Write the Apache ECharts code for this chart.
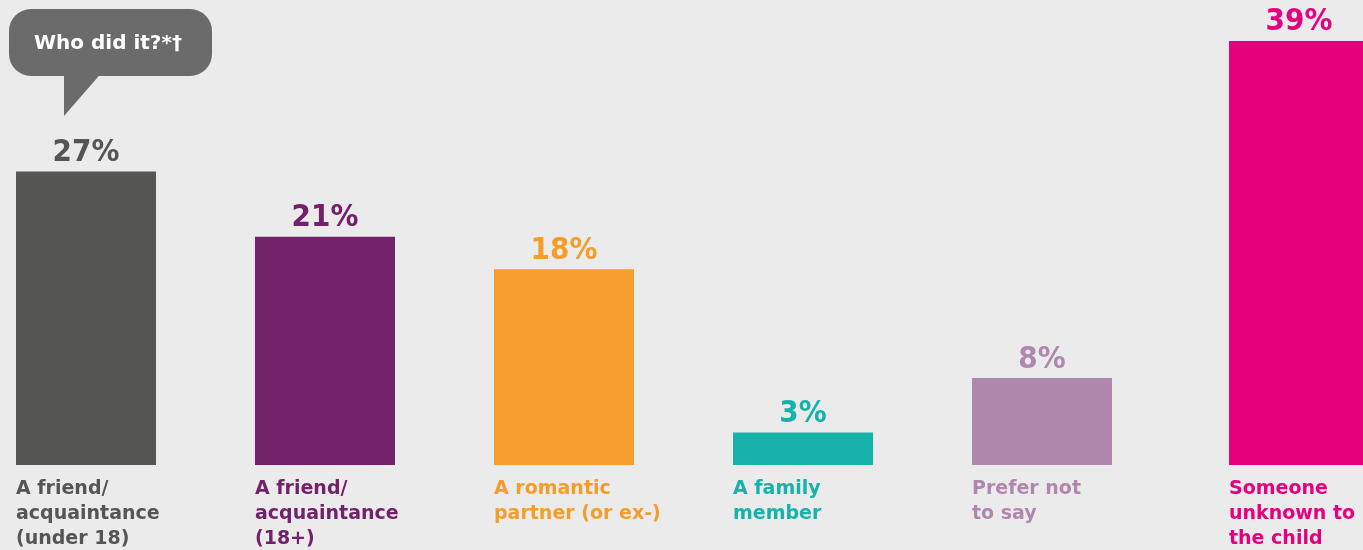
<!DOCTYPE html>
<html><head><meta charset="utf-8">
<style>html,body{margin:0;padding:0;background:#ebebeb;}#c{width:1363px;height:550px;}</style>
<script src="https://cdn.jsdelivr.net/npm/echarts@6/dist/echarts.min.js"></script>
</head><body><div id="c"></div>
<script>
const categories = ['A friend/\nacquaintance\n(under 18)', 'A friend/\nacquaintance\n(18+)', 'A romantic\npartner (or ex-)', 'A family\nmember', 'Prefer not\nto say', 'Someone\nunknown to\nthe child'];
const values = [27, 21, 18, 3, 8, 39];
const colors = ['#555554', '#71226b', '#f49d2a', '#17b2aa', '#b088ae', '#e6007e'];
const title = 'Who did it?*\u2020';

const chart = echarts.init(document.getElementById('c'));
const rich = {};
colors.forEach((c, i) => { rich['c' + i] = { color: c, width: 140, align: 'left', fontFamily: 'DejaVu Sans', fontWeight: 700, fontSize: 19, lineHeight: 25 }; });

function makeAxis(gridIndex, cats, offset) {
  return {
    type: 'category', gridIndex, data: cats,
    axisLine: { show: false }, axisTick: { show: false },
    axisLabel: {
      interval: 0, margin: 12, hideOverlap: false,
      formatter: (v, i) => v.split('\n').map(l => '{c' + (i + offset) + '|' + l + '}').join('\n'),
      rich
    }
  };
}
function makeSeries(idx, vals, offset) {
  return {
    type: 'bar', xAxisIndex: idx, yAxisIndex: idx, barWidth: 140,
    data: vals.map((v, i) => ({ value: v, itemStyle: { color: colors[i + offset] } })),
    label: { show: true, position: 'top', distance: 3, color: 'inherit', formatter: '{c}%', fontFamily: 'DejaVu Sans Condensed', fontWeight: 700, fontSize: 31 }
  };
}
const n = 5;
const yAx = g => ({ type: 'value', gridIndex: g, min: 0, max: 40, show: false, splitLine: { show: false } });
chart.setOption({
  backgroundColor: '#ebebeb',
  animation: false,
  grid: [
    { left: -33.5, width: 239 * n, top: 30, height: 435, containLabel: false, outerBoundsMode: 'none' },
    { left: 1179.5, width: 239, top: 30, height: 435, containLabel: false, outerBoundsMode: 'none' }
  ],
  xAxis: [makeAxis(0, categories.slice(0, n), 0), makeAxis(1, categories.slice(n), n)],
  yAxis: [yAx(0), yAx(1)],
  series: [makeSeries(0, values.slice(0, n), 0), makeSeries(1, values.slice(n), n)],
  graphic: [
    { type: 'polygon', shape: { points: [[64, 70], [104, 70], [64, 116]] }, style: { fill: '#6b6b6b' } },
    { type: 'rect', shape: { x: 9, y: 9, width: 203, height: 67, r: 22 }, style: { fill: '#6b6b6b' } },
    { type: 'text', left: 34, top: 34, style: { text: title, fill: '#ffffff', font: '700 20px "DejaVu Sans"' } }
  ]
});
</script></body></html>
